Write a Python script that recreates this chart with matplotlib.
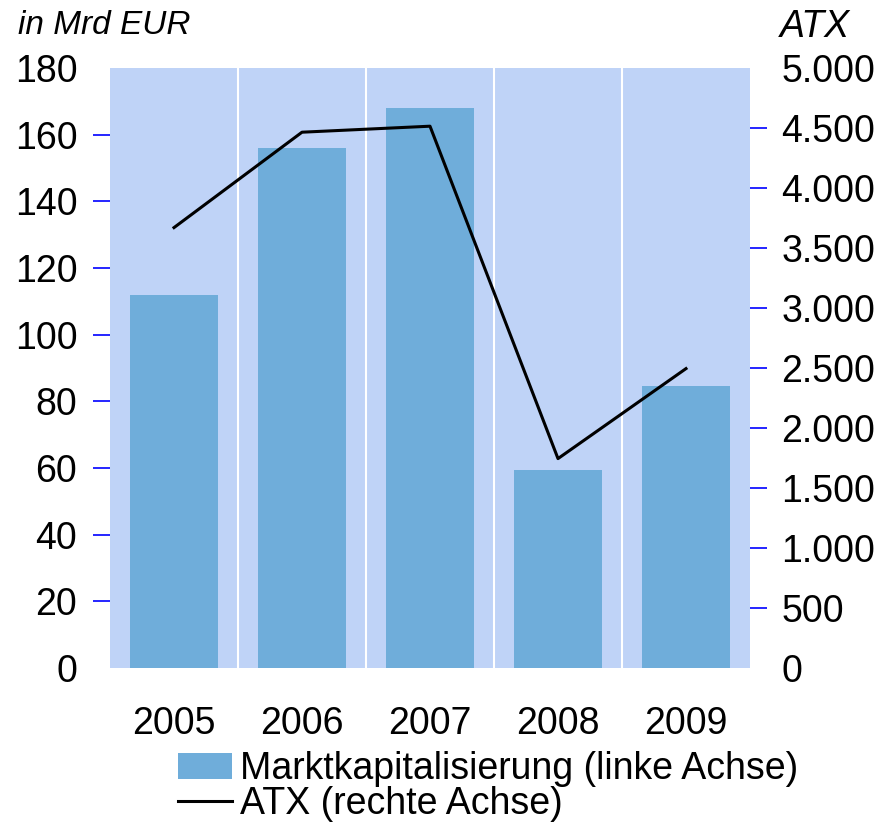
import numpy as np
import matplotlib.pyplot as plt
from matplotlib.ticker import FuncFormatter

years = ['2005', '2006', '2007', '2008', '2009']
marktkap = [112, 156, 168, 59.5, 84.5]
atx = [3670, 4465, 4515, 1745, 2495]

plt.rcParams['font.family'] = ['Liberation Sans', 'DejaVu Sans']

fig = plt.figure(figsize=(8.83, 8.25), dpi=100)
ax = fig.add_axes([110/883, 1 - 668/825, 640/883, 600/825])
ax2 = ax.twinx()

x = np.arange(len(years))
ax.set_facecolor('#BFD3F7')
ax.bar(x, marktkap, width=0.68, color='#6FADDA', zorder=2,
       label='Marktkapitalisierung (linke Achse)')
for sep in x[:-1] + 0.5:
    ax.axvline(sep, color='white', lw=1.5, zorder=1)
ax.set_xlim(-0.5, len(years) - 0.5)
ax.set_ylim(0, 180)
ax.set_yticks(np.arange(0, 181, 20))
ax.set_xticks(x)
ax.set_xticklabels(years)

ax2.plot(x, atx, color='black', lw=2.2, label='ATX (rechte Achse)')
ax2.set_ylim(0, 5000)
ax2.set_yticks(np.arange(0, 5001, 500))
ax2.yaxis.set_major_formatter(FuncFormatter(lambda v, p: f'{int(v):,}'.replace(',', '.')))

for a in (ax, ax2):
    for s in a.spines.values():
        s.set_visible(False)
ax.tick_params(axis='y', length=12, width=1.2, color='#0000FF', labelsize=27, pad=11.5)
ax2.tick_params(axis='y', length=12, width=1.2, color='#0000FF', labelsize=27, pad=10.5)
ax.tick_params(axis='x', length=0, labelsize=27, pad=27)

# no tick marks at the ends of the value axes
for a in (ax, ax2):
    ticks = a.yaxis.get_major_ticks()
    for t in (ticks[0], ticks[-1]):
        t.tick1line.set_visible(False)
        t.tick2line.set_visible(False)

fig.text(18/883, 1 - 25/825, 'in Mrd EUR', fontsize=24, style='italic',
         va='center', ha='left')
fig.text(780/883, 1 - 27/825, 'ATX', fontsize=27, style='italic',
         va='center', ha='left')

h1, l1 = ax.get_legend_handles_labels()
h2, l2 = ax2.get_legend_handles_labels()
fig.legend(h1 + h2, l1 + l2, loc='upper left', bbox_to_anchor=(178/883, 1 - 751/825),
           frameon=False, fontsize=27, handlelength=1.44, handleheight=0.72,
           handletextpad=0.2, labelspacing=-0.02, borderaxespad=0, borderpad=0)

fig.savefig('out.png', dpi=100)
